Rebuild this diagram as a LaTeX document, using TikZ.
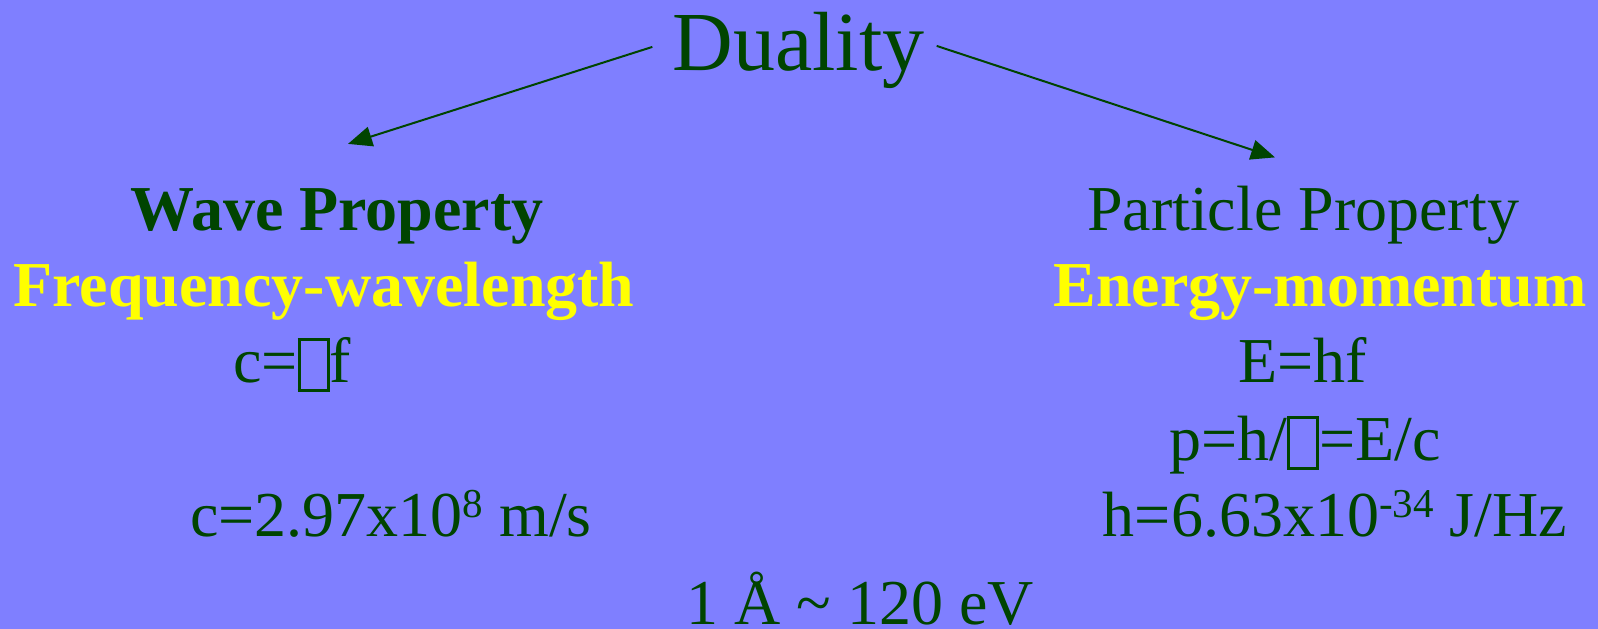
\documentclass[tikz,border=0pt]{standalone}
\usepackage{fontspec}
\setmainfont{Liberation Serif}
\usetikzlibrary{arrows.meta}
\definecolor{bgblue}{RGB}{127,127,255}
\definecolor{dgreen}{RGB}{0,68,0}
\definecolor{yel}{RGB}{255,255,0}
\newcommand{\tofubox}{{\setlength{\fboxsep}{0pt}\setlength{\fboxrule}{3pt}\fbox{\vrule width 0pt height 41pt depth 7pt\hspace{26pt}}}}
\newcommand{\supnum}[1]{\raisebox{19pt}{\fontsize{41}{41}\selectfont #1}}
\begin{document}
\begin{tikzpicture}[x=1pt,y=-1pt,
  txt/.style={anchor=base, inner sep=0pt, text=dgreen, font=\fontsize{64}{64}\selectfont},
  bold/.style={txt, font=\fontsize{64}{64}\selectfont\bfseries},
  yelbold/.style={bold, text=yel},
  arr/.style={draw=dgreen, line width=2pt, -{Triangle[length=24pt,width=20pt]}}]
\fill[bgblue] (0,0) rectangle (1598,629);
\useasboundingbox (0,0) rectangle (1598,629);
\node[txt, font=\fontsize{84}{84}\selectfont] (duality) at (798.5,70) {Duality};
\node[bold] (wave) at (337,230) {Wave Property};
\node[yelbold] (freq) at (324,306) {Frequency-wavelength};
\node[txt] (cf) at (292,382) {c=\tofubox f};
\node[txt] (cval) at (391,536) {c=2.97x10\supnum{8} m/s};
\node[txt] (particle) at (1303,230) {Particle Property};
\node[yelbold] (energy) at (1320,306) {Energy-momentum};
\node[txt] (ehf) at (1303,382) {E=hf};
\node[txt] (pval) at (1305,460) {p=h/\tofubox=E/c};
\node[txt] (hval) at (1335,536) {h=6.63x10\supnum{-34} J/Hz};
\node[txt] (conv) at (860,624) {1 Å \char"7E{} 120 eV};
\draw[arr] ([xshift=-20pt,yshift=3pt]duality.west) -- ([xshift=11pt,yshift=44pt]wave.north);
\draw[arr] ([xshift=12pt,yshift=4pt]duality.east) -- ([xshift=-28pt,yshift=28pt]particle.north);
\end{tikzpicture}
\end{document}
